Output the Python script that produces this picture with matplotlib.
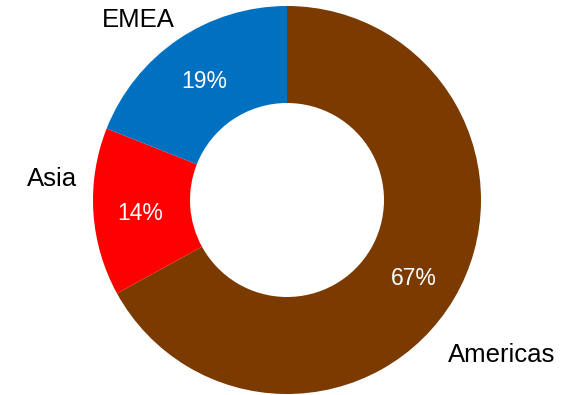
import matplotlib.pyplot as plt

regions = ["Americas", "Asia", "EMEA"]
shares = [67, 14, 19]
colors = ["#7A3A00", "#FF0000", "#0070C0"]

plt.rcParams['font.family'] = ['Liberation Sans', 'DejaVu Sans']

fig = plt.figure(figsize=(5.72, 3.95), dpi=100)
ax = fig.add_axes([0, 0, 1, 1])

wedges, texts, autotexts = ax.pie(
    shares, labels=regions, colors=colors, startangle=90, counterclock=False,
    radius=1.0, wedgeprops=dict(width=0.5, edgecolor="none"),
    autopct="%d%%", pctdistance=0.76, labeldistance=1.2,
    textprops=dict(fontsize=18.5))

for t in autotexts:
    t.set_color("white")
    t.set_fontsize(16.5)
    x, y = t.get_position()
    t.set_position((x, y - 0.02))

# place outer labels like the original
label_pos = {"Americas": (1.108, -0.80), "Asia": (-1.213, 0.11), "EMEA": (-0.768, 0.93)}
for t in texts:
    t.set_position(label_pos[t.get_text()])
    t.set_ha("center")
    t.set_va("center")

ax.set_xlim(-287 / 194, (572 - 287) / 194)
ax.set_ylim(-195 / 194, 200 / 194)
ax.set_aspect("auto")
ax.axis("off")

fig.savefig("out.png", dpi=100)
